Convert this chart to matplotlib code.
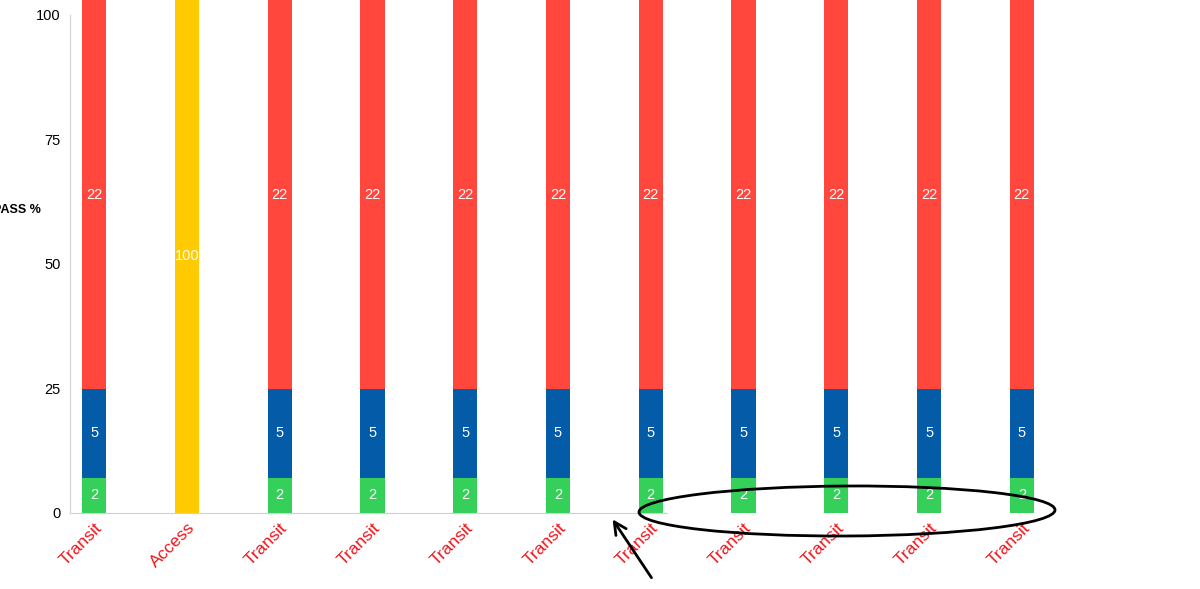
import numpy as np
import matplotlib.pyplot as plt
from matplotlib.patches import Ellipse

plt.rcParams['font.family'] = ['Liberation Sans', 'DejaVu Sans']

# chart data
categories = ['Transit', 'Access', 'Transit', 'Transit', 'Transit', 'Transit',
              'Transit', 'Transit', 'Transit', 'Transit', 'Transit']
green_vals = [2, 0, 2, 2, 2, 2, 2, 2, 2, 2, 2]
blue_vals = [5, 0, 5, 5, 5, 5, 5, 5, 5, 5, 5]
red_vals = [22, 0, 22, 22, 22, 22, 22, 22, 22, 22, 22]
yellow_vals = [0, 100, 0, 0, 0, 0, 0, 0, 0, 0, 0]
y_ticks = [0, 25, 50, 75, 100]

GREEN = '#34d05a'
BLUE = '#045ca8'
RED = '#ff473e'
YELLOW = '#ffcb00'

fig = plt.figure(figsize=(12, 5.89), dpi=100)
ax = fig.add_axes([70 / 1200, 76 / 589, 1 - 70 / 1200, 1 - 76 / 589])

# stacked percentage bars
x = np.arange(len(categories))
series = [(green_vals, GREEN), (blue_vals, BLUE), (red_vals, RED), (yellow_vals, YELLOW)]
totals = np.array(green_vals) + np.array(blue_vals) + np.array(red_vals) + np.array(yellow_vals)
bottom = np.zeros(len(categories))
for vals, col in series:
    vals = np.array(vals, dtype=float)
    pct = vals / totals * 100
    ax.bar(x, pct, bottom=bottom, width=0.26, color=col, zorder=2)
    for i in range(len(x)):
        if vals[i] > 0:
            ax.text(x[i], bottom[i] + pct[i] / 2, str(int(vals[i])), color='white',
                    ha='center', va='center', fontsize=10.5, zorder=3)
    bottom = bottom + pct

ax.set_xlim(-0.26, 11.92)
ax.set_ylim(0, 100)
ax.set_yticks([])
ax.set_xticks(x)
ax.set_xticklabels(categories, rotation=45, ha='right', rotation_mode='anchor',
                   color='#f0161c', fontsize=12.5)
ax.tick_params(axis='x', length=0, pad=5)
for s in ['top', 'right', 'left']:
    ax.spines[s].set_visible(False)
ax.spines['bottom'].set_color('#d0d0d0')
ax.spines['bottom'].set_bounds(-0.26, 6.17)

# value axis (its scale sits a little off the bars in the original)
ax2 = ax.twinx()
ax2.set_ylim(0, 103)
ax2.yaxis.tick_left()
ax2.set_yticks(y_ticks)
ax2.set_yticklabels([str(t) for t in y_ticks], fontsize=10.5)
ax2.tick_params(axis='y', length=0, pad=6.5)
for s in ['top', 'right', 'bottom']:
    ax2.spines[s].set_visible(False)
ax2.spines['left'].set_color('#d0d0d0')
ax2.spines['left'].set_bounds(0, 100)

fig.text(41 / 1200, 1 - 210 / 589, 'PASS %', ha='right', va='center',
         fontsize=9, fontweight='bold')

# hand-drawn markup on top of the screenshot (pixel coordinates)
over = fig.add_axes([0, 0, 1, 1], facecolor='none')
over.set_xlim(0, 1200)
over.set_ylim(589, 0)
over.axis('off')
over.add_patch(Ellipse((847, 511), 416, 50, angle=-0.3, fill=False,
                       edgecolor='black', linewidth=2))
over.annotate('', xy=(611, 517), xytext=(653, 580),
              arrowprops=dict(arrowstyle='->', color='black', lw=2, mutation_scale=22))

fig.savefig('out.png', dpi=100)
